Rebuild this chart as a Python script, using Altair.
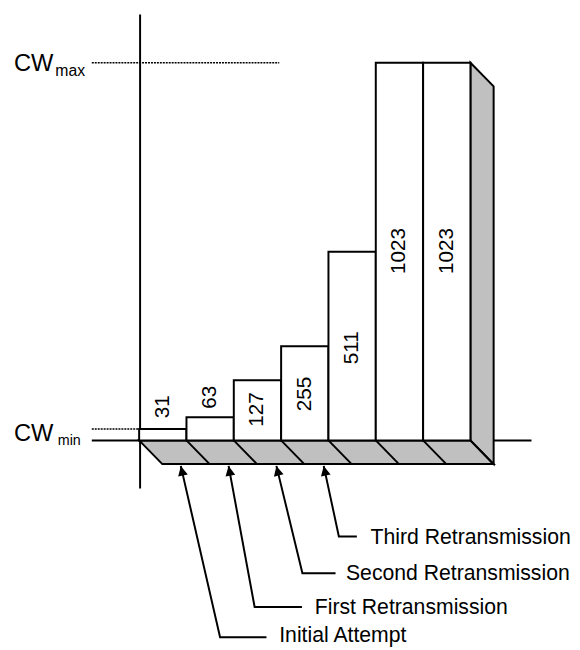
import math
import altair as alt
import pandas as pd

# ---------------- data ----------------
cw_labels = ["31", "63", "127", "255", "511", "1023", "1023"]
# drawn step heights read on the linear CW scale (the 127 step is drawn taller)
step_tops = [31, 63, 163, 255, 511, 1023, 1023]
label_levels = [91, 117, 84, 126, 251, 513, 513]
cw_min = 31
cw_max = 1023

attempt_names = ["Initial Attempt", "First Retransmission",
                 "Second Retransmission", "Third Retransmission"]
arrow_tip_slot = [0.88, 1.89, 2.90, 3.90]
arrow_tip_cw = -69
arrow_elbow_slot = [1.71, 2.44, 3.45, 4.22]
arrow_elbow_cw = [-533, -451, -360, -260]
arrow_end_slot = [2.69, 3.44, 4.15, 4.60]
text_slot = [2.96, 3.71, 4.37, 4.89]
text_cw = [-547, -471, -377, -280]

# ---------------- layout ----------------
W, H = 572, 642
X_DOM = [-2.7708, 9.1458]
Y_DOM = [-555.6, 1159.2]
PX_X = W / (X_DOM[1] - X_DOM[0])
PX_Y = H / (Y_DOM[1] - Y_DOM[0])
DEPTH_S = 0.49
DEPTH_V = -64.1
FONT = "Liberation Sans, Arial, sans-serif"
GRAY = "#C0C0C0"

xs = alt.Scale(domain=X_DOM, nice=False, zero=False)
ys = alt.Scale(domain=Y_DOM, nice=False, zero=False)


def X(f):
    return alt.X(f, type="quantitative", scale=xs, axis=None)


def Y(f):
    return alt.Y(f, type="quantitative", scale=ys, axis=None)


n = len(cw_labels)

# axes
axes_df = pd.DataFrame({
    "s": [0.02, -1.0], "s2": [0.02, 8.29],
    "v": [1154, 0], "v2": [-130, 0],
})
axes = alt.Chart(axes_df).mark_rule(color="black", strokeWidth=2).encode(
    x=X("s"), x2="s2", y=Y("v"), y2="v2")

dots_df = pd.DataFrame({
    "s": [-1.0, -1.0], "s2": [2.96, -0.02],
    "v": [cw_max, cw_min], "v2": [cw_max, cw_min],
})
dots = alt.Chart(dots_df).mark_rule(color="black", strokeWidth=1.5,
                                    strokeDash=[2, 1]).encode(
    x=X("s"), x2="s2", y=Y("v"), y2="v2")

# bottom strip (3D)
strip_df = pd.DataFrame({"v": [0, DEPTH_V], "s1": [0, DEPTH_S],
                         "s2": [n, n + DEPTH_S]})
strip = alt.Chart(strip_df).mark_area(orient="horizontal", fill=GRAY,
                                      stroke="black", strokeWidth=2).encode(
    y=Y("v"), x=X("s1"), x2="s2")

side_df = pd.DataFrame({"s": [n, n + DEPTH_S], "v1": [0, DEPTH_V],
                        "v2": [step_tops[-1], step_tops[-1] + DEPTH_V]})
side = alt.Chart(side_df).mark_area(fill=GRAY, stroke="black",
                                    strokeWidth=2).encode(
    x=X("s"), y=Y("v1"), y2="v2")

cols_df = pd.DataFrame({"x0": list(range(n)), "x1": [i + 1 for i in range(n)],
                        "base": [0] * n, "top": step_tops})
cols = alt.Chart(cols_df).mark_rect(fill="white", stroke="black",
                                    strokeWidth=2).encode(
    x=X("x0"), x2="x1", y=Y("base"), y2="top")

diag_df = pd.DataFrame({"s": list(range(1, n + 1)),
                        "s2": [i + DEPTH_S for i in range(1, n + 1)],
                        "v": [0] * n, "v2": [DEPTH_V] * n})
diags = alt.Chart(diag_df).mark_rule(color="black", strokeWidth=2).encode(
    x=X("s"), x2="s2", y=Y("v"), y2="v2")

lab_df = pd.DataFrame({"s": [i + 0.5 for i in range(n)], "v": label_levels,
                       "t": cw_labels})
labels = alt.Chart(lab_df).mark_text(font=FONT, fontSize=21, angle=270,
                                     align="center", baseline="middle",
                                     color="black").encode(
    x=X("s"), y=Y("v"), text="t:N")

# arrows
rows = []
heads = []
for i, name in enumerate(attempt_names):
    rows.append({"id": i, "ord": 0, "s": arrow_tip_slot[i], "v": arrow_tip_cw})
    rows.append({"id": i, "ord": 1, "s": arrow_elbow_slot[i], "v": arrow_elbow_cw[i]})
    rows.append({"id": i, "ord": 2, "s": arrow_end_slot[i], "v": arrow_elbow_cw[i]})
    dx = (arrow_elbow_slot[i] - arrow_tip_slot[i]) * PX_X
    dy = (arrow_tip_cw - arrow_elbow_cw[i]) * PX_Y
    ang = (-math.degrees(math.atan2(dx, dy))) % 360
    heads.append({"s": arrow_tip_slot[i], "v": arrow_tip_cw, "ang": ang})
arrow_df = pd.DataFrame(rows)
head_df = pd.DataFrame(heads)

arrow_lines = alt.Chart(arrow_df).mark_line(color="black", strokeWidth=2).encode(
    x=X("s"), y=Y("v"), detail="id:N", order="ord:Q")
arrow_heads = alt.Chart(head_df).mark_point(
    shape="M0,0L-0.5,1L0.5,1Z", filled=True, color="black", opacity=1,
    size=400, strokeWidth=0).encode(
    x=X("s"), y=Y("v"), angle=alt.Angle("ang:Q", scale=None))

txt_df = pd.DataFrame({"s": text_slot, "v": text_cw, "t": attempt_names})
texts = alt.Chart(txt_df).mark_text(font=FONT, fontSize=21.5, align="left",
                                    baseline="alphabetic", color="black").encode(
    x=X("s"), y=Y("v"), text="t:N")

cw_df = pd.DataFrame({"s": [-2.646, -2.646], "v": [1001.6, -2.7],
                      "t": ["CW", "CW"]})
cw_text = alt.Chart(cw_df).mark_text(font=FONT, fontSize=24, align="left",
                                     baseline="alphabetic", color="black").encode(
    x=X("s"), y=Y("v"), text="t:N")
sub_df = pd.DataFrame({"s": [-1.772, -1.720], "v": [987.5, -12.6],
                       "t": ["max", "min"], "fs": [16, 14.5]})
sub_text = alt.Chart(sub_df).mark_text(font=FONT, align="left",
                                       baseline="alphabetic", color="black").encode(
    x=X("s"), y=Y("v"), text="t:N", size=alt.Size("fs:Q", scale=None))

chart = alt.layer(
    axes, dots, strip, side, cols, diags, labels,
    arrow_lines, arrow_heads, texts, cw_text, sub_text,
).properties(
    width=W, height=H, padding=0,
    autosize=alt.AutoSizeParams(type="none"),
).configure_view(stroke=None)

chart.save("out.html", embed_options={"renderer": "svg", "actions": False})
